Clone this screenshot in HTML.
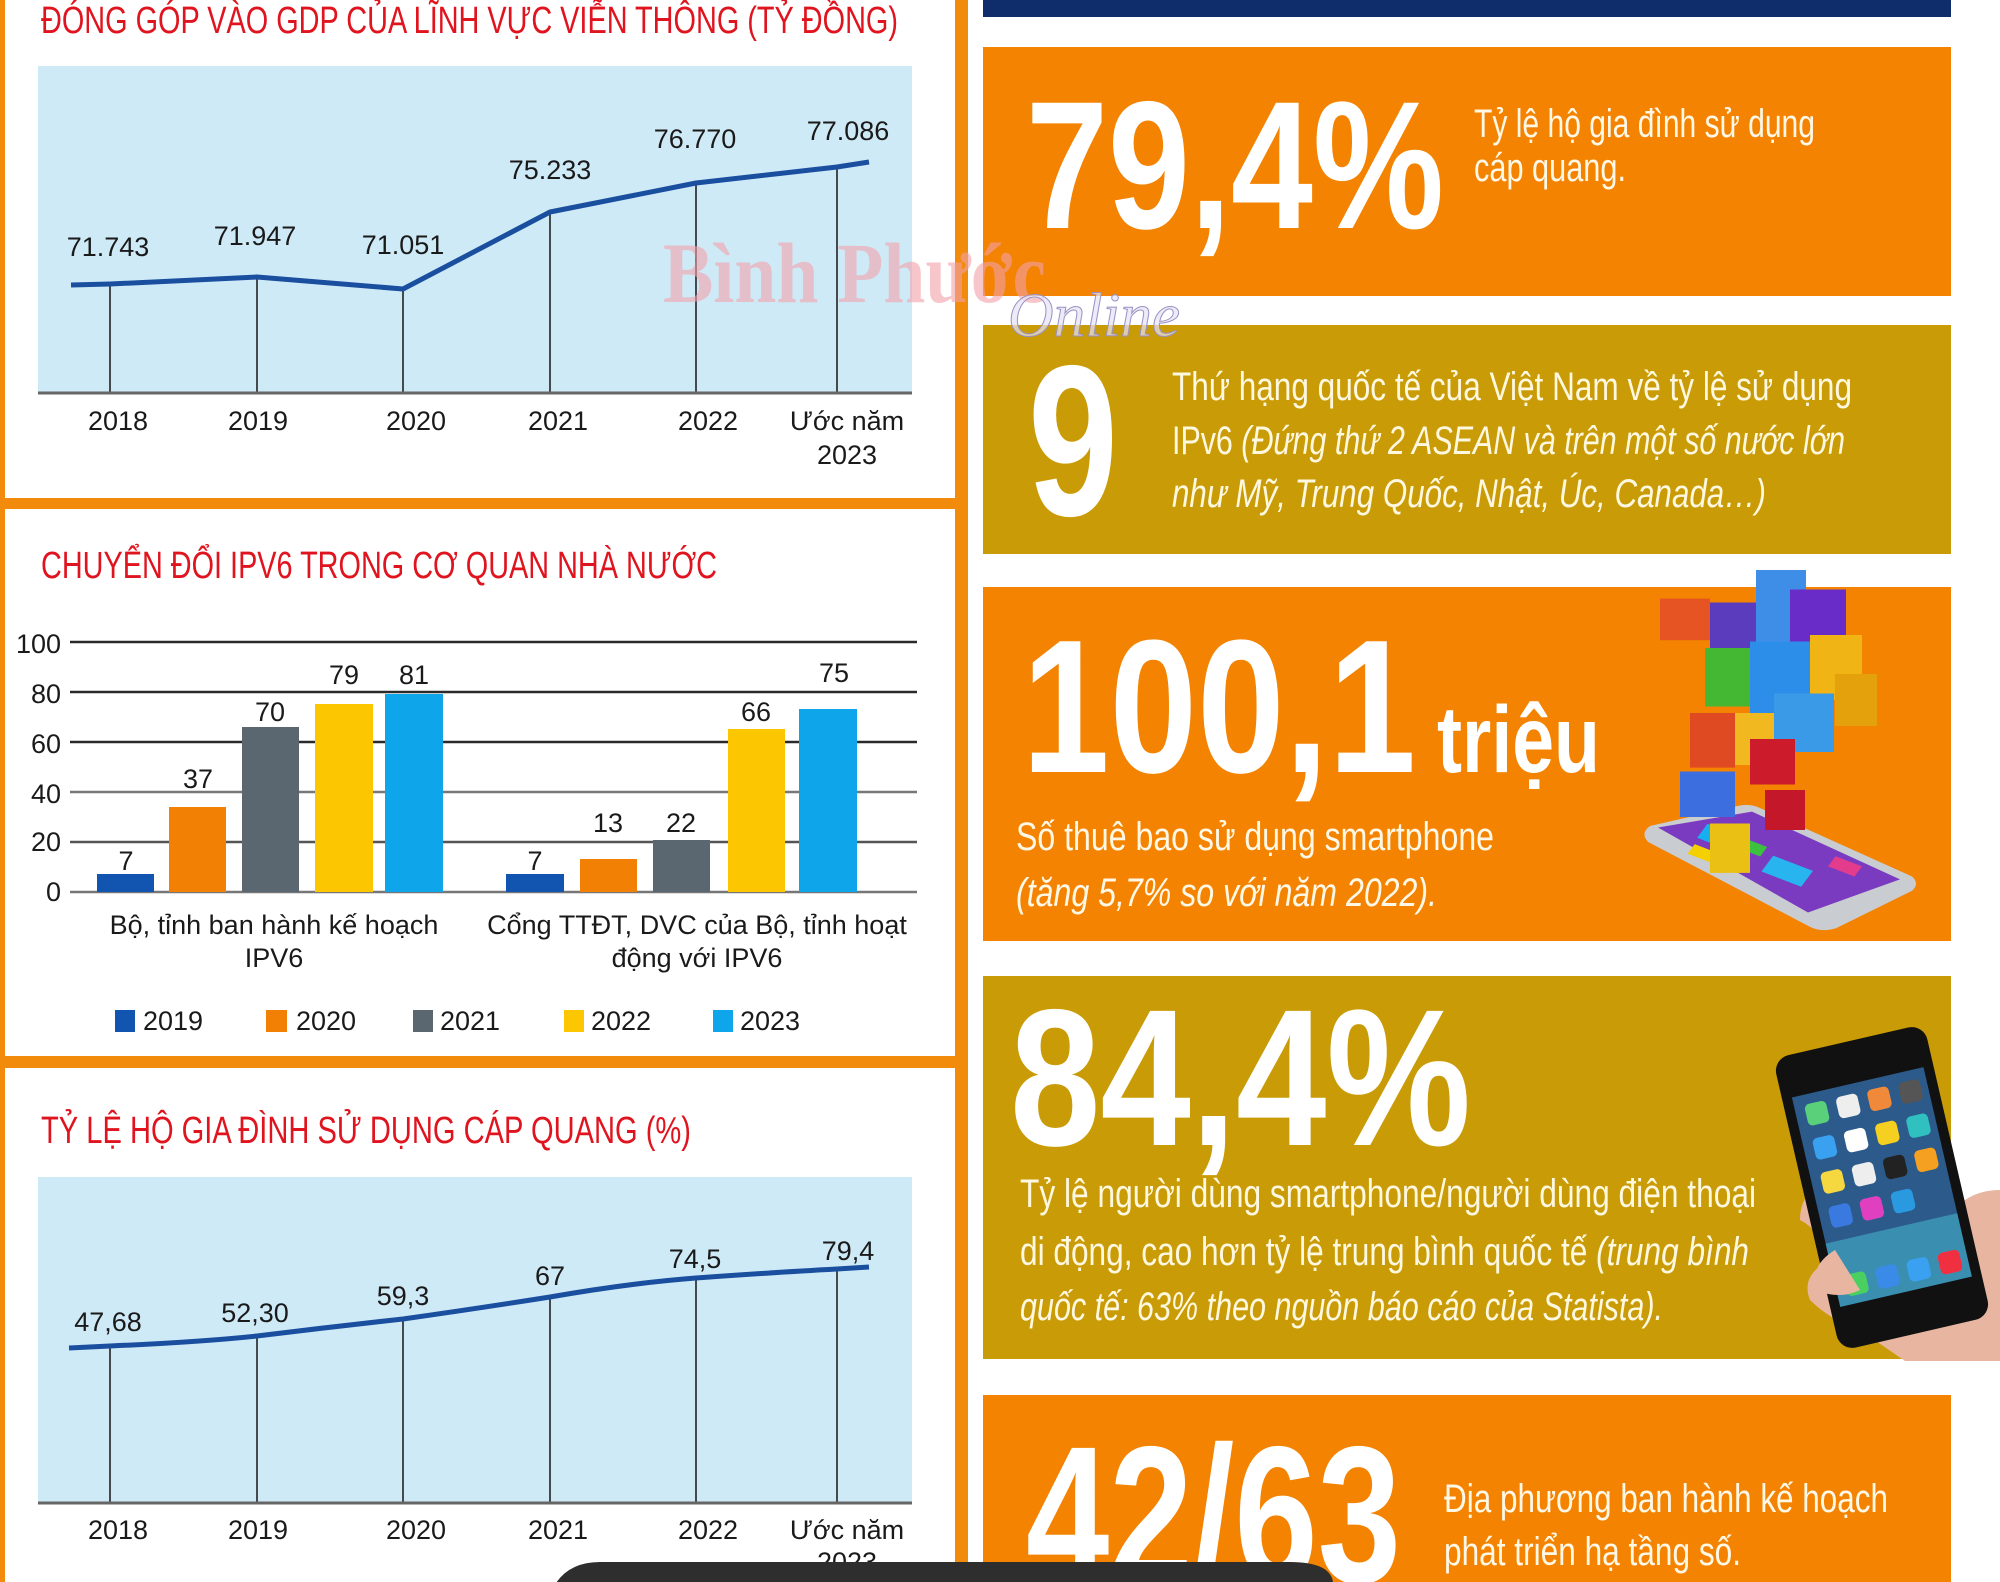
<!DOCTYPE html>
<html><head><meta charset="utf-8"><style>
html,body{margin:0;padding:0;background:#fff;}
svg{display:block;}
.t{font-family:"Liberation Sans",sans-serif;fill:#1a1a1a;}
.n{font-family:"Liberation Sans Narrow","Liberation Sans",sans-serif;}
</style></head><body>
<svg width="2000" height="1582" viewBox="0 0 2000 1582" xmlns="http://www.w3.org/2000/svg">
<rect width="2000" height="1582" fill="#fff"/>
<!-- left panel frame -->
<rect x="0" y="0" width="5" height="1582" fill="#f28a0c"/>
<rect x="955" y="0" width="13" height="1582" fill="#f28a0c"/>
<rect x="0" y="498" width="968" height="11" fill="#f28a0c"/>
<rect x="0" y="1056" width="968" height="12" fill="#f28a0c"/>

<!-- Chart 1 -->
<text class="n" x="41" y="33" font-size="38" fill="#e0141e" textLength="857" lengthAdjust="spacingAndGlyphs">ĐÓNG GÓP VÀO GDP CỦA LĨNH VỰC VIỄN THÔNG (TỶ ĐỒNG)</text>
<rect x="38" y="66" width="874" height="327" fill="#cfeaf7"/>
<g stroke="#222" stroke-width="1.6">
<line x1="110" y1="285" x2="110" y2="393"/><line x1="257" y1="277" x2="257" y2="393"/>
<line x1="403" y1="289" x2="403" y2="393"/><line x1="550" y1="212" x2="550" y2="393"/>
<line x1="696" y1="183" x2="696" y2="393"/><line x1="837" y1="167" x2="837" y2="393"/>
</g>
<line x1="38" y1="393" x2="912" y2="393" stroke="#666" stroke-width="3"/>
<polyline points="71,285 110,284 257,277 403,289 550,212 696,183 837,167 869,162" fill="none" stroke="#1a4f9f" stroke-width="5" stroke-linejoin="round"/>
<g class="t" font-size="27" text-anchor="middle" dominant-baseline="central">
<text x="108" y="247">71.743</text><text x="255" y="236">71.947</text><text x="403" y="245">71.051</text>
<text x="550" y="170">75.233</text><text x="695" y="139">76.770</text><text x="848" y="131">77.086</text>
<text x="118" y="421">2018</text><text x="258" y="421">2019</text><text x="416" y="421">2020</text>
<text x="558" y="421">2021</text><text x="708" y="421">2022</text><text x="847" y="421">Ước năm</text><text x="847" y="455">2023</text>
</g>

<!-- Chart 2 -->
<text class="n" x="41" y="578" font-size="38" fill="#e0141e" textLength="676" lengthAdjust="spacingAndGlyphs">CHUYỂN ĐỔI IPV6 TRONG CƠ QUAN NHÀ NƯỚC</text>
<g stroke="#2a2a2a" stroke-width="2.5">
<line x1="70" y1="642" x2="917" y2="642"/><line x1="70" y1="692" x2="917" y2="692"/>
<line x1="70" y1="742" x2="917" y2="742"/><line x1="70" y1="792" x2="917" y2="792" stroke="#777"/>
<line x1="70" y1="842" x2="917" y2="842" stroke="#555"/><line x1="70" y1="892" x2="917" y2="892" stroke="#777"/>
</g>
<g class="t" font-size="27" text-anchor="end" dominant-baseline="central">
<text x="61" y="644">100</text><text x="61" y="694">80</text><text x="61" y="744">60</text>
<text x="61" y="794">40</text><text x="61" y="842">20</text><text x="61" y="892">0</text>
</g>
<rect x="97" y="874" width="57" height="18" fill="#1155b0"/>
<rect x="169" y="807" width="57" height="85" fill="#f28005"/>
<rect x="242" y="727" width="57" height="165" fill="#5b6770"/>
<rect x="315" y="704" width="58" height="188" fill="#fcc700"/>
<rect x="385" y="694" width="58" height="198" fill="#0ea5ea"/>
<rect x="506" y="874" width="58" height="18" fill="#1155b0"/>
<rect x="580" y="859" width="57" height="33" fill="#f28005"/>
<rect x="653" y="840" width="57" height="52" fill="#5b6770"/>
<rect x="728" y="729" width="57" height="163" fill="#fcc700"/>
<rect x="799" y="709" width="58" height="183" fill="#0ea5ea"/>
<g class="t" font-size="27" text-anchor="middle" dominant-baseline="central">
<text x="126" y="861">7</text><text x="198" y="779">37</text><text x="270" y="712">70</text>
<text x="344" y="675">79</text><text x="414" y="675">81</text>
<text x="535" y="861">7</text><text x="608" y="823">13</text><text x="681" y="823">22</text>
<text x="756" y="712">66</text><text x="834" y="673">75</text>
<text x="274" y="925">Bộ, tỉnh ban hành kế hoạch</text><text x="274" y="958">IPV6</text>
<text x="697" y="925">Cổng TTĐT, DVC của Bộ, tỉnh hoạt</text><text x="697" y="958">động với IPV6</text>
</g>
<g class="t" font-size="27" dominant-baseline="central">
<rect x="115" y="1010" width="20" height="22" fill="#1155b0"/><text x="143" y="1021">2019</text>
<rect x="266" y="1010" width="21" height="22" fill="#f28005"/><text x="296" y="1021">2020</text>
<rect x="413" y="1010" width="20" height="22" fill="#5b6770"/><text x="440" y="1021">2021</text>
<rect x="564" y="1010" width="20" height="22" fill="#fcc700"/><text x="591" y="1021">2022</text>
<rect x="713" y="1010" width="20" height="22" fill="#0ea5ea"/><text x="740" y="1021">2023</text>
</g>

<!-- Chart 3 -->
<text class="n" x="41" y="1143" font-size="38" fill="#e0141e" textLength="650" lengthAdjust="spacingAndGlyphs">TỶ LỆ HỘ GIA ĐÌNH SỬ DỤNG CÁP QUANG (%)</text>
<rect x="38" y="1177" width="874" height="326" fill="#cfeaf7"/>
<g stroke="#222" stroke-width="1.6">
<line x1="110" y1="1347" x2="110" y2="1503"/><line x1="257" y1="1336" x2="257" y2="1503"/>
<line x1="403" y1="1319" x2="403" y2="1503"/><line x1="550" y1="1297" x2="550" y2="1503"/>
<line x1="696" y1="1278" x2="696" y2="1503"/><line x1="837" y1="1269" x2="837" y2="1503"/>
</g>
<line x1="38" y1="1503" x2="912" y2="1503" stroke="#666" stroke-width="3"/>
<path d="M69,1348 L110,1346 Q200,1342 257,1336 Q330,1327 403,1319 Q480,1308 550,1297 Q630,1283 696,1278 Q780,1272 837,1269 L869,1267" fill="none" stroke="#1a4f9f" stroke-width="5"/>
<g class="t" font-size="27" text-anchor="middle" dominant-baseline="central">
<text x="108" y="1322">47,68</text><text x="255" y="1313">52,30</text><text x="403" y="1296">59,3</text>
<text x="550" y="1276">67</text><text x="695" y="1259">74,5</text><text x="848" y="1251">79,4</text>
<text x="118" y="1530">2018</text><text x="258" y="1530">2019</text><text x="416" y="1530">2020</text>
<text x="558" y="1530">2021</text><text x="708" y="1530">2022</text><text x="847" y="1530">Ước năm</text><text x="847" y="1562">2023</text>
</g>

<!-- Right column -->
<rect x="983" y="0" width="968" height="17" fill="#0f2d6b"/>
<rect x="983" y="47" width="968" height="249" fill="#f38300"/>
<text class="n" x="1026" y="228" font-size="182" font-weight="bold" fill="#fff" textLength="418" lengthAdjust="spacingAndGlyphs">79,4%</text>
<text class="n" x="1474" y="137" font-size="40" fill="#fff8e6" textLength="341" lengthAdjust="spacingAndGlyphs">Tỷ lệ hộ gia đình sử dụng</text>
<text class="n" x="1474" y="181" font-size="40" fill="#fff8e6" textLength="152" lengthAdjust="spacingAndGlyphs">cáp quang.</text>

<rect x="983" y="325" width="968" height="229" fill="#c99b06"/>
<text class="n" x="1028" y="515" font-size="215" font-weight="bold" fill="#fff" textLength="90" lengthAdjust="spacingAndGlyphs">9</text>
<text class="n" x="1172" y="400" font-size="40" fill="#fff8e0" textLength="680" lengthAdjust="spacingAndGlyphs">Thứ hạng quốc tế của Việt Nam về tỷ lệ sử dụng</text>
<text class="n" x="1172" y="454" font-size="40" fill="#fff8e0" textLength="673" lengthAdjust="spacingAndGlyphs">IPv6 <tspan font-style="italic">(Đứng thứ 2 ASEAN và trên một số nước lớn</tspan></text>
<text class="n" x="1172" y="507" font-size="40" font-style="italic" fill="#fff8e0" textLength="594" lengthAdjust="spacingAndGlyphs">như Mỹ, Trung Quốc, Nhật, Úc, Canada…)</text>

<rect x="983" y="587" width="968" height="354" fill="#f38300"/>
<text class="n" x="1022" y="772" font-size="190" font-weight="bold" fill="#fff" textLength="394" lengthAdjust="spacingAndGlyphs">100,1</text>
<text class="n" x="1437" y="772" font-size="95" font-weight="bold" fill="#fff" textLength="163" lengthAdjust="spacingAndGlyphs">triệu</text>
<text class="n" x="1016" y="850" font-size="40" fill="#fff8e6" textLength="478" lengthAdjust="spacingAndGlyphs">Số thuê bao sử dụng smartphone</text>
<text class="n" x="1016" y="906" font-size="40" font-style="italic" fill="#fff8e6" textLength="421" lengthAdjust="spacingAndGlyphs">(tăng 5,7% so với năm 2022).</text>
<!-- phone with app cubes -->
<g transform="translate(0,803) scale(1,0.72) translate(0,-698)">
<path d="M1650,730 Q1640,740 1648,752 L1810,870 Q1822,878 1836,872 L1912,820 Q1920,810 1912,800 L1760,705 Q1750,698 1738,702 Z" fill="#c9ccd0"/>
<path d="M1658,732 L1808,850 L1900,804 L1752,710 Z" fill="#7a3bc0"/>
<rect x="1700" y="735" width="40" height="22" fill="#16b0f0" transform="rotate(28 1720 746)"/>
<rect x="1765" y="780" width="45" height="25" fill="#27b4ef" transform="rotate(28 1787 792)"/>
<rect x="1690" y="760" width="25" height="15" fill="#f4d000" transform="rotate(28 1702 767)"/>
<rect x="1740" y="752" width="25" height="15" fill="#3cc040" transform="rotate(28 1752 760)"/>
<rect x="1830" y="778" width="30" height="16" fill="#e33c8c" transform="rotate(28 1845 786)"/>
</g>
<g transform="translate(0,570) scale(1,1.3) translate(0,-570)">
<rect x="1660" y="592" width="50" height="32" fill="#e65424"/>
<rect x="1710" y="595" width="60" height="40" fill="#5a3cbc"/>
<rect x="1756" y="570" width="50" height="60" fill="#3e8ee8"/>
<rect x="1790" y="585" width="56" height="50" fill="#6a2cc8"/>
<rect x="1705" y="630" width="48" height="45" fill="#44b832"/>
<rect x="1750" y="625" width="60" height="58" fill="#2c8ee8"/>
<rect x="1810" y="620" width="52" height="50" fill="#f0b414"/>
<rect x="1835" y="650" width="42" height="40" fill="#e4a10c"/>
<rect x="1690" y="680" width="45" height="42" fill="#e04a22"/>
<rect x="1735" y="680" width="40" height="40" fill="#f2b820"/>
<rect x="1680" y="725" width="55" height="35" fill="#3c6ee0"/>
<rect x="1774" y="665" width="60" height="45" fill="#3a9ae8"/>
<rect x="1710" y="765" width="40" height="38" fill="#eac014"/>
<rect x="1750" y="700" width="45" height="35" fill="#cc1c2c"/>
</g>
<rect x="1765" y="790" width="40" height="40" fill="#c4182a"/>

<rect x="983" y="976" width="968" height="383" fill="#c99b06"/>
<text class="n" x="1010" y="1145" font-size="195" font-weight="bold" fill="#fff" textLength="461" lengthAdjust="spacingAndGlyphs">84,4%</text>
<text class="n" x="1020" y="1207" font-size="40" fill="#fff8e0" textLength="736" lengthAdjust="spacingAndGlyphs">Tỷ lệ người dùng smartphone/người dùng điện thoại</text>
<text class="n" x="1020" y="1265" font-size="40" fill="#fff8e0" textLength="729" lengthAdjust="spacingAndGlyphs">di động, cao hơn tỷ lệ trung bình quốc tế <tspan font-style="italic">(trung bình</tspan></text>
<text class="n" x="1020" y="1320" font-size="40" font-style="italic" fill="#fff8e0" textLength="643" lengthAdjust="spacingAndGlyphs">quốc tế: 63% theo nguồn báo cáo của Statista).</text>
<!-- hand + phone -->
<path d="M1830,1180 Q1800,1190 1800,1220 Q1820,1230 1830,1260 Q1800,1275 1810,1300 Q1830,1320 1860,1330 L1905,1361 L2000,1361 L2000,1190 Q1960,1190 1940,1230 Z" fill="#e8b6a0"/>
<g transform="rotate(-13 1880 1190)">
<rect x="1805" y="1038" width="155" height="300" rx="16" fill="#111"/>
<rect x="1815" y="1080" width="135" height="215" fill="#2c5a8a"/>
<rect x="1815" y="1230" width="135" height="65" fill="#3a8fb0"/>
<rect x="1825" y="1090" width="22" height="22" rx="5" fill="#5ad07a"/>
<rect x="1857" y="1090" width="22" height="22" rx="5" fill="#eee"/>
<rect x="1889" y="1090" width="22" height="22" rx="5" fill="#f08a3a"/>
<rect x="1921" y="1090" width="22" height="22" rx="5" fill="#555"/>
<rect x="1825" y="1125" width="22" height="22" rx="5" fill="#3aa0f0"/>
<rect x="1857" y="1125" width="22" height="22" rx="5" fill="#fff"/>
<rect x="1889" y="1125" width="22" height="22" rx="5" fill="#f5d020"/>
<rect x="1921" y="1125" width="22" height="22" rx="5" fill="#30c0c0"/>
<rect x="1825" y="1160" width="22" height="22" rx="5" fill="#f5d840"/>
<rect x="1857" y="1160" width="22" height="22" rx="5" fill="#eee"/>
<rect x="1889" y="1160" width="22" height="22" rx="5" fill="#222"/>
<rect x="1921" y="1160" width="22" height="22" rx="5" fill="#f5a020"/>
<rect x="1825" y="1195" width="22" height="22" rx="5" fill="#3a7ae0"/>
<rect x="1857" y="1195" width="22" height="22" rx="5" fill="#e040c0"/>
<rect x="1889" y="1195" width="22" height="22" rx="5" fill="#2a9ae0"/>
<rect x="1825" y="1265" width="22" height="22" rx="5" fill="#4ad060"/>
<rect x="1857" y="1265" width="22" height="22" rx="5" fill="#3a8ae8"/>
<rect x="1889" y="1265" width="22" height="22" rx="5" fill="#3aa0f0"/>
<rect x="1921" y="1265" width="22" height="22" rx="5" fill="#f03040"/>
</g>
<path d="M1835,1250 Q1810,1265 1815,1290 Q1840,1300 1860,1290 Z" fill="#e8b6a0"/>

<rect x="983" y="1395" width="968" height="187" fill="#f38300"/>
<text class="n" x="1026" y="1582" font-size="195" font-weight="bold" fill="#fff" textLength="375" lengthAdjust="spacingAndGlyphs">42/63</text>
<text class="n" x="1444" y="1512" font-size="40" fill="#fff8e6" textLength="444" lengthAdjust="spacingAndGlyphs">Địa phương ban hành kế hoạch</text>
<text class="n" x="1444" y="1565" font-size="40" fill="#fff8e6" textLength="297" lengthAdjust="spacingAndGlyphs">phát triển hạ tầng số.</text>

<!-- watermark -->
<text x="663" y="302" font-family="Liberation Serif,serif" font-weight="bold" font-size="86" fill="#f1a0a8" fill-opacity="0.6" textLength="383" lengthAdjust="spacingAndGlyphs">Bình Phước</text>
<text x="1008" y="336" font-family="Liberation Serif,serif" font-style="italic" font-size="62" fill="#e6e2f4" fill-opacity="0.7" stroke="#9a92c4" stroke-width="1" textLength="172" lengthAdjust="spacingAndGlyphs">Online</text>

<!-- dark bottom shape -->
<path d="M548,1582 L548,1600 Q560,1562 600,1562 L1290,1562 Q1330,1562 1333,1582 Z" fill="#2e2e2e"/>
</svg>
</body></html>
